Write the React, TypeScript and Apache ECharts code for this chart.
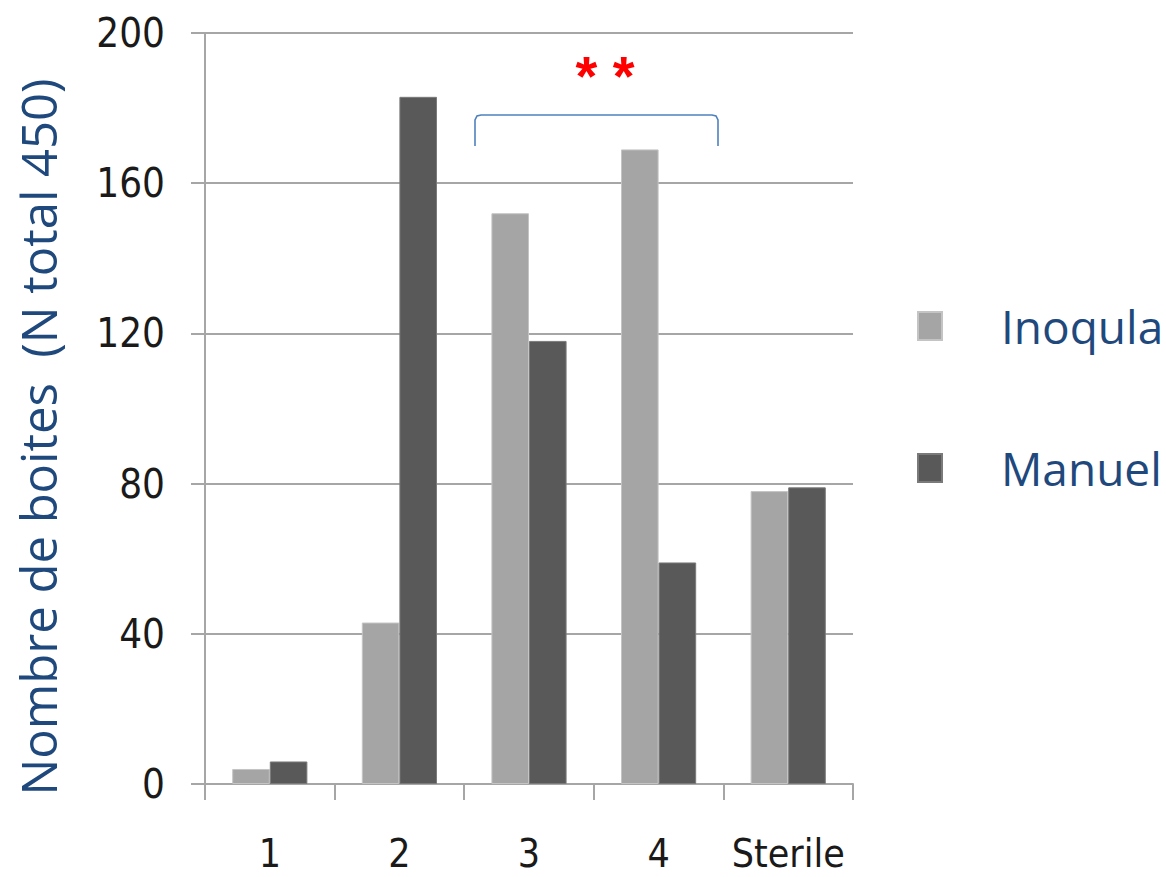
import React, { useEffect, useRef } from "react";
import * as echarts from "echarts";

const categories = ["1", "2", "3", "4", "Sterile"];
const inoqula = [4, 43, 152, 169, 78];
const manuel = [6, 183, 118, 59, 79];
const seriesNames = ["Inoqula", "Manuel"];
const yTitle = "Nombre de boites  (N total 450)";
const significance = "* *";

export default function App() {
  const ref = useRef<HTMLDivElement>(null);
  useEffect(() => {
    if (!ref.current) return;
    const chart = echarts.init(ref.current, null, { renderer: "svg" });
    const blue = "#1f497d";
    const tickFont = "'Liberation Sans Narrow', 'DejaVu Sans Condensed', 'Liberation Sans', sans-serif";
    chart.setOption({
      animation: false,
      backgroundColor: "#ffffff",
      grid: { left: 205, right: 313, top: 33, bottom: 93, containLabel: false },
      legend: {
        orient: "vertical",
        left: 912,
        top: 298,
        itemWidth: 24,
        itemHeight: 28,
        itemGap: 96,
        icon: "rect",
        data: seriesNames,
        textStyle: {
          fontFamily: "'Open Sans', sans-serif",
          fontSize: 46,
          color: blue,
          padding: [0, 0, 0, 54],
          lineHeight: 46,
        },
        selectedMode: false,
      },
      xAxis: {
        type: "category",
        data: categories,
        boundaryGap: true,
        axisLine: { show: true, lineStyle: { color: "#a6a6a6", width: 2 } },
        axisTick: { show: true, interval: 0, alignWithLabel: false, length: 16, lineStyle: { color: "#a6a6a6", width: 2 } },
        axisLabel: { interval: 0, fontFamily: tickFont, fontSize: 39, lineHeight: 38, color: "#1a1a1a", margin: 50 },
        splitLine: { show: false },
      },
      yAxis: {
        type: "value",
        min: 0,
        max: 200,
        interval: 40,
        axisLine: { show: true, lineStyle: { color: "#a6a6a6", width: 2 } },
        axisTick: { show: true, inside: false, length: 14, lineStyle: { color: "#a6a6a6", width: 2 } },
        axisLabel: { fontFamily: tickFont, fontSize: 40, color: "#1a1a1a", margin: 40 },
        splitLine: { show: true, lineStyle: { color: "#a6a6a6", width: 2 } },
      },
      series: [
        {
          name: seriesNames[0],
          type: "bar",
          data: inoqula,
          barGap: "0%",
          barCategoryGap: "42%",
          itemStyle: { color: "#a5a5a5", borderColor: "#c4c4c4", borderWidth: 1 },
        },
        {
          name: seriesNames[1],
          type: "bar",
          data: manuel,
          barGap: "0%",
          barCategoryGap: "42%",
          itemStyle: { color: "#595959", borderColor: "#7a7a7a", borderWidth: 1 },
        },
      ],
      graphic: [
        {
          type: "text",
          x: 38,
          y: 437,
          rotation: Math.PI / 2,
          style: {
            text: yTitle,
            fontFamily: "'Open Sans', sans-serif",
            fontSize: 49,
            fill: blue,
            align: "center",
            verticalAlign: "middle",
          },
        },
        {
          type: "polyline",
          shape: {
            points: [
              [475, 146],
              [475, 120],
              [477, 116],
              [481, 115],
              [712, 115],
              [716, 116],
              [718, 120],
              [718, 146],
            ],
          },
          style: { stroke: "#4f81bd", lineWidth: 1.6, fill: null },
        },
        {
          type: "text",
          x: 605,
          y: 75,
          style: {
            text: significance,
            fontFamily: "'Liberation Sans', sans-serif",
            fontSize: 56,
            fontWeight: "bold",
            fill: "#ff0000",
            align: "center",
            verticalAlign: "middle",
          },
        },
      ],
    });
    return () => chart.dispose();
  }, []);
  return <div ref={ref} style={{ position: "fixed", left: 0, top: 0, width: 1166, height: 877 }} />;
}
